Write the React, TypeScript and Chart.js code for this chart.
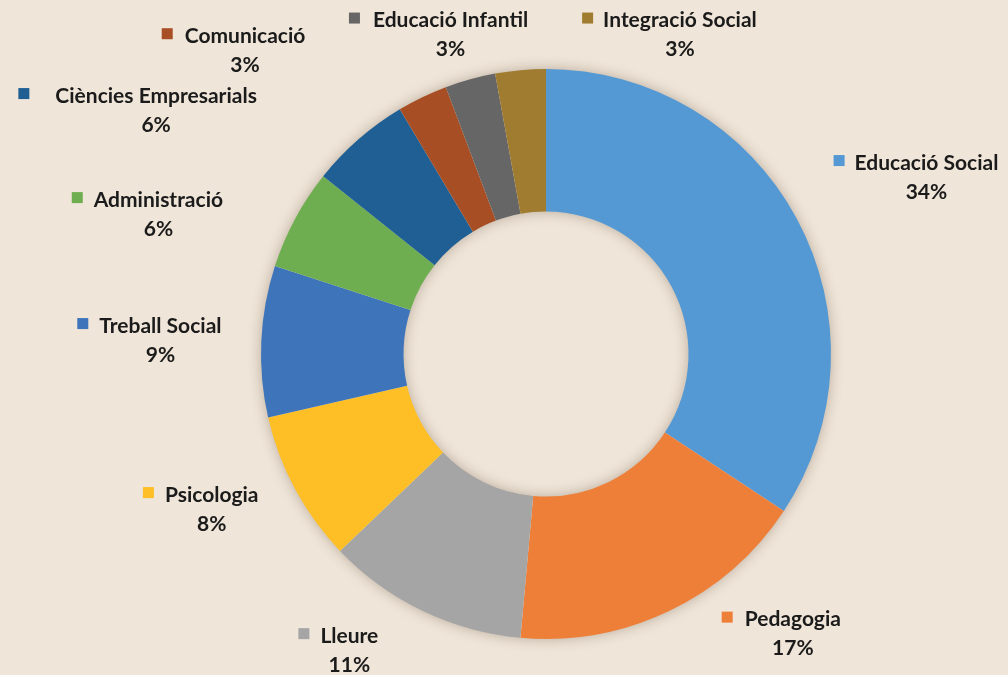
import React, { useEffect, useRef } from "react";
import { Chart, registerables } from "chart.js";

Chart.register(...registerables);

const categories = [
  "Educació Social",
  "Pedagogia",
  "Lleure",
  "Psicologia",
  "Treball Social",
  "Administració",
  "Ciències Empresarials",
  "Comunicació",
  "Educació Infantil",
  "Integració Social",
];
const counts = [12, 6, 4, 3, 3, 2, 2, 1, 1, 1];
const percentLabels = ["34%", "17%", "11%", "8%", "9%", "6%", "6%", "3%", "3%", "3%"];
const sliceColors = [
  "#5499d4",
  "#ee7f39",
  "#a5a5a5",
  "#fdbf25",
  "#3d74ba",
  "#6fae50",
  "#1f5f94",
  "#a84e24",
  "#666666",
  "#a07c31",
];

// label placement relative to the ring centre, in units of the outer radius
const labelLayout = [
  { dx: 1.335, dy: -0.67, gap: 10 },
  { dx: 0.866, dy: 0.932, gap: 12 },
  { dx: -0.69, dy: 0.99, gap: 11 },
  { dx: -1.173, dy: 0.495, gap: 11 },
  { dx: -1.353, dy: -0.098, gap: 11 },
  { dx: -1.36, dy: -0.54, gap: 11 },
  { dx: -1.368, dy: -0.905, gap: 26 },
  { dx: -1.056, dy: -1.115, gap: 12 },
  { dx: -0.335, dy: -1.17, gap: 13 },
  { dx: 0.47, dy: -1.17, gap: 10 },
];

const FONT = "bold 21px Lato, 'Open Sans', sans-serif";

const ringShadow = {
  id: "ringShadow",
  beforeDatasetsDraw(chart: any) {
    const meta = chart.getDatasetMeta(0);
    const arc = meta.data[0];
    if (!arc) return;
    const { x, y, outerRadius, innerRadius } = arc.getProps(["x", "y", "outerRadius", "innerRadius"], true);
    const ctx = chart.ctx;
    ctx.save();
    ctx.shadowColor = "rgba(60,40,20,0.35)";
    ctx.shadowBlur = 14;
    ctx.fillStyle = "#efe5d8";
    ctx.beginPath();
    ctx.arc(x, y, outerRadius - 1, 0, Math.PI * 2);
    ctx.arc(x, y, innerRadius + 1, 0, Math.PI * 2, true);
    ctx.closePath();
    ctx.fill();
    ctx.restore();
  },
};

const outerLabels = {
  id: "outerLabels",
  afterDatasetsDraw(chart: any) {
    const meta = chart.getDatasetMeta(0);
    const arc = meta.data[0];
    if (!arc) return;
    const { x, y, outerRadius } = arc.getProps(["x", "y", "outerRadius"], true);
    const ctx = chart.ctx;
    ctx.save();
    ctx.font = FONT;
    ctx.textBaseline = "middle";
    ctx.textAlign = "center";
    categories.forEach((name, i) => {
      const lay = labelLayout[i];
      const cx = x + lay.dx * outerRadius;
      const cy = y + lay.dy * outerRadius;
      const w = ctx.measureText(name).width;
      ctx.fillStyle = "#1b1b1b";
      ctx.fillText(name, cx, cy);
      ctx.fillText(percentLabels[i], cx, cy + 29);
      ctx.fillStyle = sliceColors[i];
      ctx.fillRect(cx - w / 2 - lay.gap - 11, cy - 8, 11, 11);
    });
    ctx.restore();
  },
};

export default function App() {
  const canvasRef = useRef<HTMLCanvasElement | null>(null);

  useEffect(() => {
    if (!canvasRef.current) return;
    const chart = new Chart(canvasRef.current, {
      type: "doughnut",
      data: {
        labels: categories,
        datasets: [
          {
            data: counts,
            backgroundColor: sliceColors,
            borderWidth: 0,
          },
        ],
      },
      options: {
        animation: false,
        responsive: true,
        maintainAspectRatio: false,
        cutout: "50%",
        layout: { padding: { left: 261, right: 177, top: 69, bottom: 36 } },
        plugins: {
          legend: { display: false },
          tooltip: { enabled: false },
        },
      },
      plugins: [ringShadow, outerLabels],
    });
    return () => chart.destroy();
  }, []);

  return (
    <div
      style={{
        position: "fixed",
        left: 0,
        top: 0,
        width: 1008,
        height: 675,
        background: "#efe5d8",
      }}
    >
      <canvas ref={canvasRef} />
    </div>
  );
}
